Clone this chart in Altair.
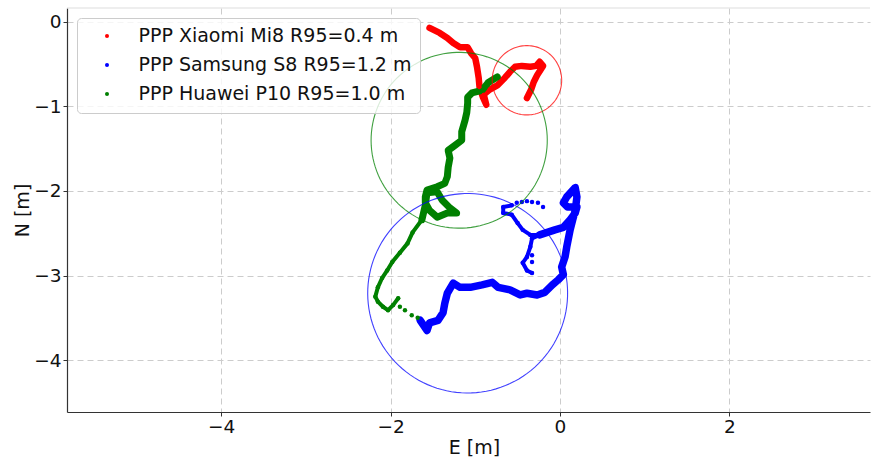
import altair as alt
import pandas as pd

PHONES = ["PPP Xiaomi Mi8 R95=0.4 m", "PPP Samsung S8 R95=1.2 m", "PPP Huawei P10 R95=1.0 m"]
COLORS = ["#ff0000", "#0000ff", "#008000"]

# Xiaomi (red) trajectory
RED_E = [-1.54, -1.42, -1.33, -1.26, -1.18, -1.09, -1.05, -1.00, -0.98, -0.96, -0.95, -0.91, -0.87, -0.90,
         -0.83, -0.74, -0.65, -0.59, -0.53, -0.45, -0.35, -0.28, -0.24, -0.20, -0.27, -0.31, -0.34, -0.39]
RED_N = [-0.07, -0.13, -0.19, -0.25, -0.30, -0.30, -0.37, -0.43, -0.53, -0.66, -0.77, -0.89, -0.98, -0.86,
         -0.80, -0.75, -0.66, -0.59, -0.53, -0.52, -0.53, -0.52, -0.47, -0.52, -0.63, -0.71, -0.80, -0.90]

# Huawei (green) trajectory
GREEN_UP_E = [-0.74, -0.85, -0.92, -1.04, -1.09, -1.09, -1.10, -1.12, -1.16, -1.16, -1.24, -1.32, -1.30, -1.32, -1.33,
              -1.36, -1.45, -1.57, -1.59, -1.59, -1.54, -1.45, -1.33, -1.22, -1.30, -1.39, -1.45, -1.57, -1.59, -1.63]
GREEN_UP_N = [-0.65, -0.72, -0.81, -0.84, -0.89, -0.96, -1.07, -1.16, -1.30, -1.40, -1.46, -1.52, -1.61, -1.72, -1.83,
              -1.91, -1.95, -1.99, -2.07, -2.14, -2.23, -2.31, -2.26, -2.26, -2.20, -2.11, -2.01, -2.02, -2.17, -2.34]
GREEN_LOW_E = [-1.63, -1.74, -1.80, -1.89, -1.98, -2.04, -2.10, -2.15, -2.18, -2.15, -2.09, -2.03, -1.97, -1.91]
GREEN_LOW_N = [-2.34, -2.49, -2.62, -2.73, -2.84, -2.94, -3.03, -3.14, -3.25, -3.31, -3.37, -3.41, -3.35, -3.27]
GREEN_DOT_E = [-1.89, -1.83, -1.75, -1.68]
GREEN_DOT_N = [-3.37, -3.41, -3.47, -3.50]

# Samsung (blue) trajectory
BLUE_MAIN_E = [-1.65, -1.57, -1.54, -1.44, -1.38, -1.36, -1.33, -1.26, -1.18, -1.06, -0.92, -0.80, -0.73, -0.59,
               -0.47, -0.39, -0.27, -0.18, -0.09, -0.02, 0.04, 0.02, 0.06, 0.08, 0.12, 0.15, 0.18, 0.20, 0.18,
               0.08, 0.04, 0.09, 0.20, 0.18, 0.12, 0.04, -0.06, -0.15, -0.24]
BLUE_MAIN_N = [-3.53, -3.65, -3.56, -3.53, -3.44, -3.33, -3.21, -3.09, -3.14, -3.14, -3.11, -3.08, -3.14, -3.17,
               -3.23, -3.21, -3.23, -3.20, -3.11, -3.05, -2.99, -2.90, -2.78, -2.66, -2.46, -2.34, -2.23, -2.07, -1.96,
               -2.07, -2.14, -2.19, -2.19, -2.26, -2.34, -2.43, -2.46, -2.49, -2.52]
BLUE_TAIL_E = [-0.24, -0.33, -0.35, -0.39, -0.44, -0.39, -0.33]
BLUE_TAIL_N = [-2.52, -2.56, -2.66, -2.78, -2.85, -2.94, -2.97]
BLUE_BRANCH_E = [-0.24, -0.35, -0.44, -0.50, -0.57, -0.67, -0.67, -0.57]
BLUE_BRANCH_N = [-2.52, -2.52, -2.46, -2.38, -2.28, -2.26, -2.19, -2.17]
BLUE_DOT_E = [-0.51, -0.45, -0.39, -0.33, -0.26, -0.20, -0.33, -0.33]
BLUE_DOT_N = [-2.14, -2.13, -2.12, -2.13, -2.14, -2.19, -2.76, -2.84]

# R95 circles (center E, center N, radius)
CIRCLE_E = [-0.39, -1.09, -1.19]
CIRCLE_N = [-0.69, -3.21, -1.40]
CIRCLE_R = [0.41, 1.18, 1.04]

X_TICKS = [-4, -2, 0, 2]
Y_TICKS = [0, -1, -2, -3, -4]

W, H = 803, 404
FONT = "DejaVu Sans"

segments = [
    (PHONES[0], "r1", RED_E, RED_N, 6.5),
    (PHONES[2], "g1", GREEN_UP_E, GREEN_UP_N, 7),
    (PHONES[2], "g2", GREEN_LOW_E, GREEN_LOW_N, 4),
    (PHONES[1], "b1", BLUE_MAIN_E, BLUE_MAIN_N, 7.5),
    (PHONES[1], "b2", BLUE_TAIL_E, BLUE_TAIL_N, 4),
    (PHONES[1], "b3", BLUE_BRANCH_E, BLUE_BRANCH_N, 4),
]
rows = []
for phone, seg, es, ns, w in segments:
    for i, (e, n) in enumerate(zip(es, ns)):
        rows.append({"grp": phone, "seg": seg, "i": i, "E": e, "N": n, "w": w})
paths = pd.DataFrame(rows)

pts_rows = [{"phone": r["grp"], "E": r["E"], "N": r["N"]} for r in rows]
for phone, es, ns in [(PHONES[2], GREEN_DOT_E, GREEN_DOT_N), (PHONES[1], BLUE_DOT_E, BLUE_DOT_N)]:
    for e, n in zip(es, ns):
        pts_rows.append({"phone": phone, "E": e, "N": n})
pts = pd.DataFrame(pts_rows)

circ = pd.DataFrame({"grp": PHONES, "cx": CIRCLE_E, "cy": CIRCLE_N, "r": CIRCLE_R})

xscale = alt.Scale(domain=[-5.82, 3.66], nice=False, zero=False)
yscale = alt.Scale(domain=[-4.615, 0.165], nice=False, zero=False)

xaxis = alt.Axis(values=X_TICKS, title="E [m]", titleX=407, titleY=35, titleAlign="center",
                 titleBaseline="middle", labelPadding=1)
yaxis = alt.Axis(values=Y_TICKS, title="N [m]", titleX=-44.5, titleY=H / 2, titleAngle=270,
                 titleAlign="center", titleBaseline="middle", labelPadding=2)

X = alt.X("E:Q", scale=xscale, axis=xaxis)
Y = alt.Y("N:Q", scale=yscale, axis=yaxis)

layers = []
top_spine = alt.Chart(pd.DataFrame({"k": [0]})).mark_rule(color="#dddddd", strokeWidth=1).encode(
    x=alt.value(0), x2=alt.value(W), y=alt.value(0)
)
layers.append(top_spine)

for phone, col in zip(PHONES, COLORS):
    layers.append(
        alt.Chart(paths).transform_filter(alt.datum.grp == phone)
        .mark_line(color=col, strokeCap="round", strokeJoin="round")
        .encode(x=X, y=Y, strokeWidth=alt.StrokeWidth("w:Q", scale=None, legend=None),
                detail="seg:N", order="i:Q")
    )

points = alt.Chart(pts).mark_circle(size=20, opacity=1).encode(
    x=X, y=Y,
    color=alt.Color("phone:N", scale=alt.Scale(domain=PHONES, range=COLORS),
                    legend=alt.Legend(title=None, orient="top-left", offset=10)),
)
layers.append(points)

for phone, col in zip(PHONES, COLORS):
    layers.append(
        alt.Chart(circ).transform_filter(alt.datum.grp == phone).transform_calculate(
            t="sequence(0, 6.35, 0.05)"
        ).transform_flatten(["t"]).transform_calculate(
            E="datum.cx + datum.r * cos(datum.t)",
            N="datum.cy + datum.r * sin(datum.t)",
        ).mark_line(color=col, strokeWidth=1.1, opacity=0.75).encode(x=X, y=Y, order="t:Q")
    )

chart = alt.layer(*layers).properties(
    width=W, height=H,
    autosize=alt.AutoSizeParams(type="none"),
    padding={"left": 67, "top": 8, "right": 1, "bottom": 46},
).configure_view(stroke=None).configure_axis(
    labelFont=FONT, labelFontSize=18.5, labelColor="#111111",
    titleFont=FONT, titleFontSize=19, titleFontWeight="normal", titleColor="#111111",
    domainColor="#333333", domainWidth=1.2, tickColor="#333333", tickSize=4,
    grid=True, gridColor="#cccccc", gridDash=[6, 4], gridWidth=1,
).configure_legend(
    labelFont=FONT, labelFontSize=19, labelColor="#111111", labelLimit=400,
    symbolType="circle", symbolSize=16, symbolOffset=12, labelOffset=22,
    rowPadding=9, padding=8.5,
    fillColor="rgba(255,255,255,0.8)", strokeColor="#cccccc", cornerRadius=4,
)

chart.save("out.html", embed_options={"renderer": "svg", "actions": False})
